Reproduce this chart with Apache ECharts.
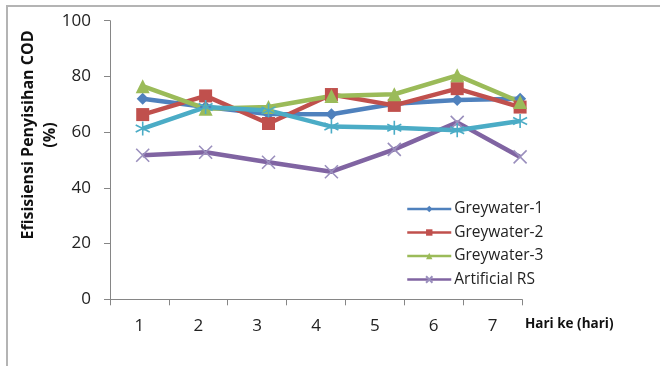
<!DOCTYPE html>
<html>
<head>
<meta charset="utf-8">
<script src="https://cdn.jsdelivr.net/npm/echarts@6/dist/echarts.min.js"></script>
<style>
  html, body { margin: 0; padding: 0; background: #fff; }
  #chart { width: 660px; height: 366px; }
</style>
</head>
<body>
<div id="chart"></div>
<script>
// Days of observation
var days = [1, 2, 3, 4, 5, 6, 7];
var dayLabels = ['1', '2', '3', '4', '5', '6', '7'];

// COD removal efficiency (%) per day
var greywater1 = [72.0, 69.0, 66.5, 66.4, 70.2, 71.5, 72.0];
var greywater2 = [66.3, 73.0, 63.1, 73.5, 69.6, 75.6, 69.0];
var greywater3 = [76.5, 68.4, 69.0, 73.0, 73.6, 80.4, 70.8];
var artificialRS = [51.7, 52.8, 49.2, 45.8, 53.8, 63.5, 51.1];
var series5 = [61.3, 69.0, 67.8, 62.0, 61.6, 60.7, 64.0];

var yTicks = { min: 0, max: 100, interval: 20 };
var yTitle = ['Efisisiensi Penyisihan COD', '(%)'];

function pairs(vals) {
  return days.map(function (d, i) { return [d, vals[i]]; });
}

var crossPath = 'path://M0,0L10,10M10,0L0,10';
var starPath = 'path://M5,0L5,10M0.7,2.5L9.3,7.5M0.7,7.5L9.3,2.5';

var chart = echarts.init(document.getElementById('chart'), null, { renderer: 'canvas' });

function lineSeries(name, vals, color, symbol, size, strokeOnly) {
  var s = {
    name: name,
    type: 'line',
    xAxisIndex: 1,
    data: pairs(vals),
    symbol: symbol,
    symbolSize: size,
    showAllSymbol: true,
    lineStyle: { color: color, width: 4.5 },
    itemStyle: { color: color, borderWidth: 0 },
    emphasis: { disabled: true },
    animation: false
  };
  if (strokeOnly) {
    s.itemStyle = { color: 'transparent', borderColor: strokeOnly, borderWidth: 1.6 };
  }
  return s;
}

var option = {
  backgroundColor: '#ffffff',
  animation: false,
  textStyle: { fontFamily: 'Open Sans, Liberation Sans, sans-serif' },
  grid: { left: 110, top: 20.7, right: 138, bottom: 66.7, containLabel: false },
  graphic: [{
    type: 'rect',
    shape: { x: 7, y: 6, width: 720, height: 420 },
    style: { fill: 'none', stroke: '#b4b4b4', lineWidth: 2 },
    silent: true
  }, {
    // rotated y-axis title
    type: 'text',
    x: 39,
    y: 135,
    rotation: Math.PI / 2,
    silent: true,
    style: {
      text: yTitle.join('\n'),
      align: 'center',
      verticalAlign: 'middle',
      fontSize: 16,
      lineHeight: 22,
      fontWeight: 'bold',
      fill: '#111',
      fontFamily: 'Open Sans, sans-serif'
    }
  }],
  legend: {
    data: ['Greywater-1', 'Greywater-2', 'Greywater-3', 'Artificial RS'],
    orient: 'vertical',
    left: 401,
    top: 196,
    itemWidth: 44,
    itemHeight: 8,
    itemGap: 7.5,
    textStyle: { fontSize: 15.5, color: '#222', fontFamily: 'Open Sans, sans-serif', padding: [0, 0, 0, -2] },
    lineStyle: { width: 2.5 }
  },
  xAxis: [{
    type: 'category',
    data: dayLabels,
    boundaryGap: true,
    axisLine: { lineStyle: { color: '#868686', width: 1 } },
    axisTick: { show: true, length: 6, alignWithLabel: false, lineStyle: { color: '#868686' } },
    axisLabel: { fontSize: 17, color: '#222', margin: 18 },
    name: 'Hari ke (hari)',
    nameLocation: 'end',
    nameGap: 3,
    nameTextStyle: {
      fontSize: 13.5, fontWeight: 'bold', color: '#111',
      align: 'left', verticalAlign: 'top', padding: [18, 0, 0, 0]
    }
  }, {
    type: 'value',
    min: 0.48,
    max: 7.03,
    show: false
  }],
  yAxis: {
    type: 'value',
    min: yTicks.min,
    max: yTicks.max,
    interval: yTicks.interval,
    axisLine: { show: true, lineStyle: { color: '#868686', width: 1 } },
    axisTick: { show: true, length: 6, lineStyle: { color: '#868686' } },
    splitLine: { show: false },
    axisLabel: { fontSize: 17, color: '#222', margin: 19 }
  },
  series: [
    lineSeries('Greywater-1', greywater1, '#4F81BD', 'diamond', 12),
    lineSeries('Greywater-2', greywater2, '#C0504D', 'rect', 13),
    lineSeries('Greywater-3', greywater3, '#9BBB59', 'triangle', 14),
    lineSeries('Artificial RS', artificialRS, '#8064A2', crossPath, 13, '#9a8fbd'),
    lineSeries('Seri 5', series5, '#4BACC6', starPath, 14, '#4BACC6')
  ]
};

chart.setOption(option);
</script>
</body>
</html>
